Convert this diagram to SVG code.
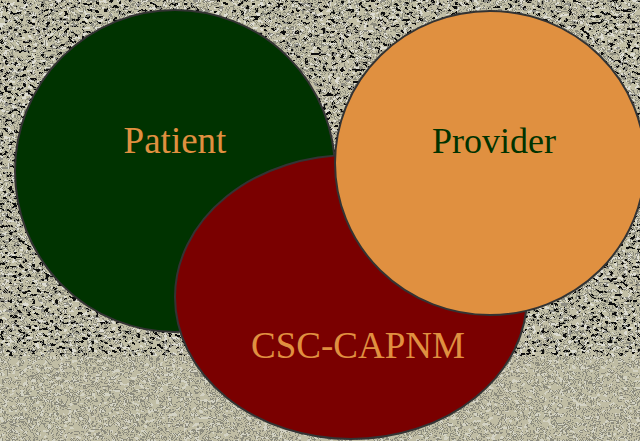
<svg xmlns="http://www.w3.org/2000/svg" width="640" height="441" viewBox="0 0 640 441">
  <defs>
    <style>
      .node { stroke: #333333; stroke-width: 2; }
      .label { font-family: "Liberation Serif", "Times New Roman", serif; font-size: 37px; text-anchor: middle; }
    </style>
    <filter id="granite" x="0" y="0" width="640" height="441" filterUnits="userSpaceOnUse">
      <feTurbulence type="fractalNoise" baseFrequency="0.22 0.32" numOctaves="1" seed="7" result="n"/>
      <feColorMatrix in="n" type="matrix" values="0 0 0 0 0  0 0 0 0 0  0 0 0 0 0  3.5 0 0 0 -1.15" result="a"/>
      <feComponentTransfer in="a" result="spots">
        <feFuncA type="discrete" tableValues="1 1 1 0 0 0 0 0 0 0"/>
      </feComponentTransfer>
      <feFlood flood-color="#080808" result="blk"/>
      <feComposite in="blk" in2="spots" operator="in"/>
    </filter>
    <filter id="lightspots" x="0" y="0" width="640" height="441" filterUnits="userSpaceOnUse">
      <feTurbulence type="fractalNoise" baseFrequency="0.25 0.3" numOctaves="1" seed="3" result="n"/>
      <feColorMatrix in="n" type="matrix" values="0 0 0 0 0  0 0 0 0 0  0 0 0 0 0  0 3.5 0 0 -1.25" result="a"/>
      <feComponentTransfer in="a" result="spots">
        <feFuncA type="discrete" tableValues="0 0 0 0 0 0 0 0 1 1"/>
      </feComponentTransfer>
      <feFlood flood-color="#e2e2da" result="wh"/>
      <feComposite in="wh" in2="spots" operator="in"/>
    </filter>
    <filter id="contours" x="0" y="0" width="640" height="441" filterUnits="userSpaceOnUse">
      <feTurbulence type="fractalNoise" baseFrequency="0.1 0.12" numOctaves="1" seed="11" result="n"/>
      <feColorMatrix in="n" type="matrix" values="0 0 0 0 0  0 0 0 0 0  0 0 0 0 0  3 0 0 0 -1" result="a"/>
      <feComponentTransfer in="a" result="bands">
        <feFuncA type="discrete" tableValues="0 0 1 0 0 1 0 0 1 0 0 1 0 0 1 0 0 1 0"/>
      </feComponentTransfer>
      <feFlood flood-color="#8c8b7d" result="g"/>
      <feComposite in="g" in2="bands" operator="in"/>
    </filter>
  </defs>

  <g id="background">
    <rect x="0" y="0" width="640" height="356" fill="#c2bfa6"/>
    <rect x="0" y="0" width="640" height="356" fill="#fff" filter="url(#lightspots)" opacity="0.7"/>
    <rect x="0" y="0" width="640" height="356" fill="#000" filter="url(#granite)"/>
    <rect x="0" y="356" width="640" height="85" fill="#c0bda4"/>
    <rect x="0" y="356" width="640" height="85" fill="#fff" filter="url(#lightspots)" opacity="0.6"/>
    <rect x="0" y="356" width="640" height="85" fill="#000" filter="url(#contours)"/>
  </g>

  <g id="connectors"></g>

  <g id="patient">
    <ellipse class="node" cx="175" cy="171" rx="160" ry="161" fill="#003300"/>
    <text class="label" x="175" y="153" fill="#e09040">Patient</text>
  </g>

  <g id="csc-capnm">
    <ellipse class="node" cx="351" cy="297" rx="176" ry="142" fill="#7a0000"/>
    <text class="label" x="358" y="358" fill="#e09040">CSC-CAPNM</text>
  </g>

  <g id="provider">
    <ellipse class="node" cx="490" cy="163" rx="155" ry="152" fill="#e09040"/>
    <text class="label" x="494" y="153" fill="#003300" style="font-size:36px">Provider</text>
  </g>
</svg>
